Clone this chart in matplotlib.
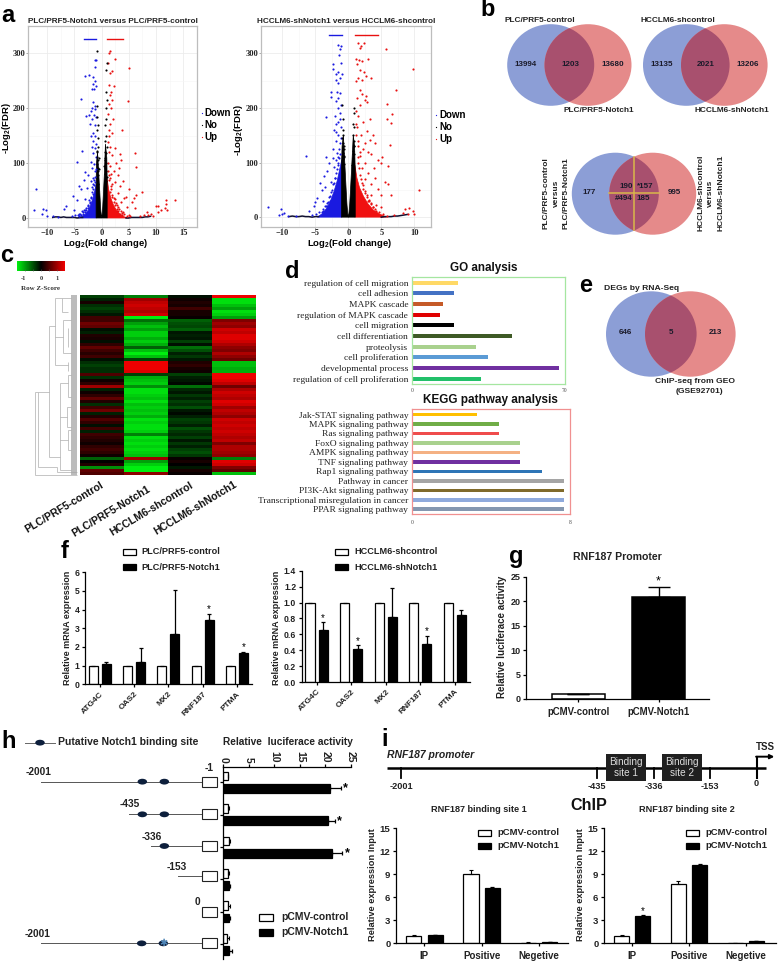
import matplotlib
matplotlib.use('Agg')
import matplotlib.pyplot as plt
import numpy as np
from matplotlib.patches import Ellipse, Rectangle
from matplotlib.colors import LinearSegmentedColormap

plt.rcParams['font.family'] = ['Liberation Sans', 'DejaVu Sans']
plt.rcParams['mathtext.fontset'] = 'custom'
plt.rcParams['mathtext.rm'] = 'Liberation Sans:bold'
plt.rcParams['mathtext.bf'] = 'Liberation Sans:bold'

# ---------- panel a: volcano values ----------
a1_blue_x = [-1.3,-1.0,-1.2,-3.0,-2.3,-1.5,-1.3,-1.6,-1.0,-1.8,-1.4,-3.8,-1.5,-1.3,-1.7,-1.2,-1.9,-2.9,-2.4,-1.4,-1.1,-1.7,-2.1,-1.3,-1.6,-1.2,-1.9,-1.5,-1.1,-1.8,-1.3,-3.7,-1.6,-1.1,-4.6,-2.0,-1.4,-1.8,-3.0,-1.2,-2.5,-1.5,-3.3,-2.0,-1.2,-4.2,-2.7,-3.8,-1.6,-12.0,-5.2,-4.5,-3.0,-2.2,-6.5,-7.0,-5.0,-10.8,-10.3,-10.9,-10.0,-12.5,-9.0,-8.0,-4.2,-3.6,-3.0,-2.5,
             -1.4,-1.7,-2.0,-2.3,-2.6,-2.9,-3.2,-3.5,-3.9,-4.4,-4.9,-5.5,-1.6,-1.9,-2.2,-2.5,-2.8,-3.1,-3.4,-3.8,-4.1,-1.2,-1.5,-1.8,-1.1,-1.4]
a1_blue_y = [288,288,275,258,260,257,250,245,240,235,235,217,212,205,200,198,195,186,188,188,185,180,172,170,155,150,150,140,135,130,128,122,118,112,102,102,98,92,84,85,78,72,70,68,66,58,55,52,52,53,40,32,35,30,22,16,14,17,14,8,4,15,3,2,8,12,15,18,
             60,48,38,32,24,19,14,10,8,6,5,3,44,36,27,21,14,11,7,5,3,75,62,56,90,70]
a1_red_x = [1.3,1.6,2.4,1.1,2.0,1.6,5.0,1.4,2.3,1.8,1.5,1.9,4.9,1.3,1.7,1.2,2.1,1.5,1.3,3.7,1.9,1.4,1.1,1.6,2.4,1.3,3.3,6.1,1.9,3.5,2.7,3.2,1.5,6.3,2.3,1.8,3.0,4.0,2.5,3.3,2.0,5.1,3.0,7.4,6.4,5.9,4.5,4.1,5.5,3.5,2.5,6.1,4.6,10.0,10.4,11.8,11.8,13.5,11.6,10.9,12.1,10.3,9.0,8.3,8.6,7.8,7.0,9.5,3.0,2.8,4.0,5.0,
            1.4,1.7,2.0,2.3,2.6,2.9,3.2,3.5,3.8,4.2,4.6,5.2,1.6,1.9,2.2,2.5,2.8,3.1,3.4,3.8,1.2,1.5,1.8,1.1,1.4]
a1_red_y = [300,305,290,282,268,265,273,243,240,230,225,215,214,207,200,190,180,172,160,161,155,150,138,130,128,120,117,118,115,105,100,92,95,93,85,80,78,68,65,58,62,53,45,48,42,37,38,36,30,30,34,18,20,22,22,33,26,32,18,14,15,10,8,11,6,5,3,3,20,12,10,5,
            70,52,42,36,28,24,17,13,9,7,4,3,48,38,30,24,16,13,8,5,85,72,58,100,78]
a1_black_x = [-0.85,0.9,0.85,0.75,0.95,-0.85,0.75,0.8,-0.8,-0.7,-0.9,0.7,0.85,-0.75,-0.6,0.65,-0.9,0.6,-0.5,0.6,0.5,-0.55,
              -0.9,-0.8,-0.7,-0.85,-0.65,-0.75,-0.6,-0.9,-0.8,-0.7,0.9,0.8,0.7,0.85,0.65,0.75,0.6,0.9,0.8,0.7]
a1_black_y = [305,282,270,230,215,205,200,180,185,170,160,170,150,145,130,140,122,120,110,110,95,90,
              120,112,105,98,92,85,78,72,66,62,130,118,105,100,92,86,80,74,68,62]
a1_tail_left_x = [-9.0,-8.5,-8.0,-7.5,-7.0,-6.5,-6.0,-5.5,-5.0,-4.5,-4.0,-3.5]
a1_tail_left_y = [1,2,2,1,2,1,1,1,1,0,1,1]
a1_tail_right_x = [4.5,5.0,5.5,6.0,6.5,7.0,7.5,8.0,8.5,9.0]
a1_tail_right_y = [0,0,1,1,1,1,1,2,2,3]
a1_blue_cloud_x = [-1,-1,-1.3,-1.6,-2,-2.5,-3,-3.6,-4.3]
a1_blue_cloud_y = [0,62,48,36,24,13,7,3,0]
a1_red_cloud_x = [1,1,1.3,1.7,2.2,2.8,3.5,4.2,5]
a1_red_cloud_y = [0,72,52,36,23,13,6,2,0]
a1_black_cloud_x = [-1.02,-1.02,-0.95,-0.75,-0.5,-0.33,-0.2,-0.08,0,0.08,0.2,0.33,0.5,0.7,0.95,1.02,1.02]
a1_black_cloud_y = [0,60,100,120,75,45,20,6,0,6,20,45,80,135,110,70,0]

a2_blue_x = [-1.6,-1.1,-1.2,-1.4,-1.1,-2.4,-2.3,-1.9,-1.5,-1.0,-1.3,-1.8,-1.6,-2.7,-1.7,-1.2,-2.6,-1.5,-1.9,-1.1,-1.6,-3.4,-2.0,-1.3,-1.8,-1.1,-2.2,-1.5,-1.9,-1.2,-2.3,-1.7,-6.4,-3.4,-2.4,-3.0,-1.5,-2.1,-3.2,-3.7,-4.3,-3.5,-2.6,-2.0,-4.0,-4.8,-5.0,-3.8,-5.2,-2.8,-6.0,-12.2,-10.2,-10.0,-10.5,-9.7,-9.2,-8.0,-4.0,-3.2,
             -1.4,-1.7,-2.0,-2.3,-2.6,-2.9,-3.2,-3.5,-3.9,-4.4,-4.9,-5.5,-1.6,-1.9,-2.2,-2.5,-2.8,-3.1,-3.4,-3.8,-1.2,-1.5,-1.8,-1.1,-1.4,-1.25,-1.55,-1.85]
a2_blue_y = [316,313,307,296,282,272,280,262,265,262,255,252,245,230,230,228,220,218,212,205,200,184,185,180,170,165,160,150,140,135,125,118,112,110,108,100,100,92,85,75,62,55,65,72,50,35,28,30,20,30,12,18,15,6,4,8,3,2,10,20,
             108,88,72,60,46,36,26,20,14,9,6,4,95,80,62,50,38,28,20,12,190,175,155,145,125,115,110,105]
a2_red_x = [1.5,2.4,1.9,1.7,5.7,1.1,1.6,3.0,1.3,2.0,1.8,9.8,2.4,2.7,1.4,2.0,1.1,3.5,7.3,1.7,2.1,2.7,1.3,2.5,2.8,5.9,1.8,1.1,6.6,1.5,5.8,3.3,2.2,6.5,1.3,2.8,1.9,3.7,3.3,2.6,4.1,6.3,1.5,2.2,3.0,3.5,1.8,5.1,4.5,2.6,5.0,3.9,6.0,2.0,3.0,4.0,2.5,3.5,5.6,4.5,10.8,6.0,4.9,6.5,3.5,5.0,4.2,8.6,9.2,9.8,10.0,9.0,8.3,7.0,3.0,4.0,
            1.4,1.7,2.0,2.3,2.6,2.9,3.2,3.5,3.8,4.2,4.6,5.2,5.8,1.6,1.9,2.2,2.5,2.8,3.1,3.4,3.8,1.2,1.5,1.8,1.1,1.4]
a2_red_y = [318,318,314,310,308,290,288,290,280,285,270,272,265,258,255,252,250,254,233,232,225,222,218,215,210,208,205,195,188,185,180,180,175,172,165,158,150,150,142,135,135,132,130,125,120,115,112,110,105,100,100,90,93,90,80,72,70,60,65,52,50,60,40,40,40,18,22,15,17,11,5,6,7,4,30,15,
            100,78,62,52,44,36,30,24,18,12,9,6,3,90,70,58,48,40,32,25,19,170,140,120,150,110]
a2_black_x = [-0.9,0.8,-0.85,0.85,0.75,-0.8,0.9,-0.75,0.7,-0.7,0.85,-0.65,0.7,-0.9,-0.8,-0.7,-0.85,-0.65,-0.75,-0.6,0.9,0.8,0.7,0.85,0.65,0.75,0.6]
a2_black_y = [205,200,180,190,170,160,165,150,150,130,130,110,115,145,135,125,118,112,106,98,140,130,122,116,108,102,96]
a2_tail_left_x = [-9.0,-8.5,-8.0,-7.5,-7.0,-6.5,-6.0,-5.5,-5.0,-4.5]
a2_tail_left_y = [1,2,1,1,2,1,1,0,1,1]
a2_tail_right_x = [5.0,5.5,6.0,6.5,7.0,7.5,8.0,8.5,9.0]
a2_tail_right_y = [0,1,1,1,2,2,3,4,5]
a2_blue_cloud_x = [-1,-1,-1.3,-1.7,-2.2,-2.7,-3.3,-4,-4.7]
a2_blue_cloud_y = [0,105,88,66,46,30,16,6,0]
a2_red_cloud_x = [1,1,1.3,1.7,2.3,3,3.8,4.7,5.8]
a2_red_cloud_y = [0,95,72,54,38,24,13,6,0]
a2_black_cloud_x = [-1.05,-1.05,-0.95,-0.75,-0.5,-0.33,-0.2,-0.08,0,0.08,0.2,0.33,0.5,0.75,0.95,1.05,1.05]
a2_black_cloud_y = [0,90,130,150,90,50,22,6,0,6,22,50,90,150,130,85,0]

# ---------- panel b / e: venn counts ----------
venn1_counts = ['13994', '1203', '13680']
venn2_counts = ['13135', '2021', '13206']
venn3_counts = ['177', '190', '*157', '#494', '185', '995']
venn_e_counts = ['646', '5', '213']

# ---------- panel c: heatmap rows (z-scores) ----------
heat_plc_control = [-0.4,-0.2,0.15,-0.3,-0.4,-0.3,-0.15,0.4,0.4,0.7,0.6,-0.1,-0.2,0.2,0.15,-0.1,0.3,0.6,0.4,0.25,0.4,-0.1,-0.3,-0.4,-0.3,-0.3,0.5,-0.3,0.1,0.3,1.0,-0.2,0.1,0.3,0.6,0.2,-0.3,0.4,0.7,-0.2,0.2,0.5,0.3,-0.1,0.4,-0.2,0.4,0.3,0.2,0.1,0.3,0.4,0.3,0.1,-0.6,0.0,0.2,-0.9,0.6,0.5]
heat_plc_notch = [-0.8,1.0,1.2,1.3,1.2,1.1,1.3,-1.5,-0.7,-1.0,-1.2,-1.0,-1.3,-1.3,-1.1,-1.3,-1.1,-0.6,-1.2,-1.5,-1.2,-0.4,1.5,1.5,1.5,1.4,-0.4,-1.1,-1.2,-1.3,-0.9,-1.4,-1.4,-1.3,-1.2,-1.4,-1.2,-1.3,-1.2,-1.3,-1.1,-1.4,-1.3,-1.4,-1.4,-1.3,-0.8,-1.4,-1.3,-1.4,-1.3,-1.4,-1.3,-1.2,1.0,-1.0,-1.3,-1.5,-1.5,0.9]
heat_hcc_control = [-0.1,0.1,0.2,0.15,0.4,0.15,0.15,0.05,-0.6,-0.5,-0.45,-0.6,-0.15,-0.2,-0.15,-0.4,-0.1,-0.7,-0.5,-0.2,-0.35,-0.15,0.2,0.3,0.15,0.1,-0.4,-0.2,-0.15,-0.05,-0.7,-0.25,-0.15,-0.35,-0.2,-0.4,-0.3,-0.5,-0.15,-0.05,-0.2,-0.4,-0.35,-0.2,-0.5,-0.35,-0.25,-0.4,-0.15,-0.35,-0.2,-0.4,-0.5,-0.35,0.05,0.15,0.0,-0.15,0.15,0.05]
heat_hcc_notch = [1.5,-1.4,-1.4,-1.2,-1.0,-1.4,-1.3,-1.0,0.8,1.0,0.9,1.3,1.2,1.4,1.4,1.3,1.1,0.9,0.8,1.1,0.9,0.7,-1.2,-1.2,-1.1,-1.1,1.5,1.5,1.4,1.2,0.7,1.1,1.3,1.2,1.1,1.4,1.3,1.0,1.2,1.1,0.9,1.3,1.2,1.3,1.2,1.3,1.2,1.1,1.2,0.8,1.1,1.1,1.0,0.9,-0.8,1.4,1.3,0.8,0.6,-1.2]
heat_columns = ['PLC/PRF5-control', 'PLC/PRF5-Notch1', 'HCCLM6-shcontrol', 'HCCLM6-shNotch1']

# ---------- panel d ----------
go_terms = ['regulation of cell migration','cell adhesion','MAPK cascade','regulation of MAPK cascade','cell migration','cell differentiation','proteolysis','cell proliferation','developmental process','regulation of cell proliferation']
go_values = [21.3,19.3,14.3,13.1,19.3,46,29.4,34.7,67.3,31.7]
go_colors = ['#ffd966','#4472c4','#c55a28','#e00000','#000000','#3e5a26','#a9d18e','#5b9bd5','#7030a0','#22c06a']
kegg_terms = ['Jak-STAT signaling pathway','MAPK signaling pathway','Ras signaling pathway','FoxO signaling pathway','AMPK signaling pathway','TNF signaling pathway','Rap1 signaling pathway','Pathway in cancer','PI3K-Akt signaling pathway','Transcriptional misregulation in cancer','PPAR signaling pathway']
kegg_values = [3.29,4.39,4.39,5.49,5.49,5.49,6.57,7.68,7.68,7.68,7.68]
kegg_colors = ['#ffc000','#70ad47','#ef4c4c','#a9d18e','#f4b183','#7030a0','#2e75b6','#a5a5a5','#806a2a','#8faadc','#8497b0']

# ---------- panel f ----------
genes = ['ATG4C','OAS2','MX2','RNF187','PTMA']
f1_control = [1,1,1,1,1]
f1_notch = [1.1,1.17,2.7,3.42,1.7]
f1_err = [0.1,0.78,2.33,0.35,0.05]
f1_star = [False,False,False,True,True]
f2_control = [1,1,1,1,1]
f2_notch = [0.65,0.42,0.82,0.48,0.84]
f2_err = [0.1,0.04,0.36,0.1,0.06]
f2_star = [True,True,False,True,False]

# ---------- panel g ----------
g_labels = ['pCMV-control','pCMV-Notch1']
g_values = [1.0,20.8]
g_err = [0.1,2.15]

# ---------- panel h ----------
h_control = [0.9,1.0,1.2,1.0,1.0,0.8]
h_control_err = [0.1,0.1,0.05,0.1,0.3,0.3]
h_notch = [20.8,20.5,21.2,1.2,1.2,1.2]
h_notch_err = [2.2,1.3,2.1,0.1,0.1,0.5]
h_star = [True,True,True,False,False,False]
h_ticks = [0,5,10,15,20,25]
h_site_labels = ['-2001','-1','-435','-336','-153','0','-2001']

# ---------- panel i ----------
i_groups = ['IP','Positive','Negetive']
i1_control = [1.0,9.1,0.1]
i1_control_err = [0.02,0.4,0.02]
i1_notch = [1.1,7.15,0.2]
i1_notch_err = [0.03,0.15,0.02]
i2_control = [1.0,7.8,0.05]
i2_control_err = [0.02,0.3,0.01]
i2_notch = [3.55,10.2,0.25]
i2_notch_err = [0.1,0.15,0.05]
i_promoter_labels = ['-2001','-435','-336','-153','0']

# ---------- figure scaffolding ----------
W, H = 778, 961
fig = plt.figure(figsize=(W/100, H/100), dpi=100, facecolor='white')
bg = fig.add_axes([0, 0, 1, 1])
bg.set_xlim(0, W); bg.set_ylim(H, 0); bg.axis('off')

def pax(x0, y0, x1, y1):
    a = fig.add_axes([x0/W, 1-y1/H, (x1-x0)/W, (y1-y0)/H])
    a.patch.set_alpha(0)
    return a

def T(x, y, s, size=6, weight='bold', ha='center', va='center', **kw):
    return bg.text(x, y, s, fontsize=size, fontweight=weight, ha=ha, va=va, **kw)

for s, x, y in [('a',8,15),('b',488,10),('c',7,255),('d',292,272),('e',586,286),('f',65,551),('g',516,557),('h',9,741),('i',385,739)]:
    T(x, y, s, size=17, ha='center')

# ---------- a ----------
def volcano(box, xlim, ylim, xt, yt, title, blue, red, black, clouds, tails, top_rugs):
    a = pax(*box)
    a.set_xlim(*xlim); a.set_ylim(*ylim)
    a.set_xticks(xt); a.set_yticks(yt)
    a.set_xticks([v+2.5 for v in xt], minor=True)
    a.set_yticks([v+50 for v in yt], minor=True)
    a.grid(True, which='major', color='#ececec', lw=0.6)
    a.grid(True, which='minor', color='#f5f5f5', lw=0.4)
    a.set_axisbelow(True)
    for sp in a.spines.values():
        sp.set_color('#bdbdbd'); sp.set_linewidth(0.9)
    a.tick_params(which='minor', length=0)
    a.tick_params(which='major', length=1.5, width=0.5, color='#888888', pad=0.5)
    for lab in a.get_xticklabels()+a.get_yticklabels():
        lab.set_family('Liberation Serif'); lab.set_fontweight('bold'); lab.set_fontsize(6.0); lab.set_color('#222222')
    for (cx, cy), c in zip(clouds, ['#1a1ae0', '#f01010', '#000000']):
        a.fill(cx, cy, color=c, lw=0.5, zorder=2 if c != '#000000' else 2.5)
    for tx, ty in tails:
        a.plot(tx, ty, color='#101030', lw=1.1, zorder=2)
    a.scatter(*blue, s=2.4, color='#1a1ae0', lw=0, zorder=3)
    a.scatter(*red, s=2.4, color='#e81010', lw=0, zorder=3)
    a.scatter(*black, s=2.4, color='#000000', lw=0, zorder=3)
    for (x0, x1), c in top_rugs:
        a.plot([x0, x1], [ylim[1], ylim[1]], color=c, lw=1.0, clip_on=False, zorder=4)
    a.set_title(title, fontsize=5.85, fontweight='bold', pad=2.2, color='#222222')
    return a

volcano((28.3,26,196.7,226.7), (-13.5,15.8), (-15.9,325.6), [-10,-5,0,5,10,15], [0,100,200,300],
        'PLC/PRF5-Notch1 versus PLC/PRF5-control',
        (a1_blue_x,a1_blue_y),(a1_red_x,a1_red_y),(a1_black_x,a1_black_y),
        [(a1_blue_cloud_x,a1_blue_cloud_y),(a1_red_cloud_x,a1_red_cloud_y),(a1_black_cloud_x,a1_black_cloud_y)],
        [(a1_tail_left_x,a1_tail_left_y),(a1_tail_right_x,a1_tail_right_y)],
        [((-3.2,-1),'#1a1ae0'),((1,3.9),'#e81010')])
volcano((260.7,26,430.7,226.7), (-13.3,11.9), (-17.5,334), [-10,-5,0,5,10], [0,100,200,300],
        'HCCLM6-shNotch1 versus HCCLM6-shcontrol',
        (a2_blue_x,a2_blue_y),(a2_red_x,a2_red_y),(a2_black_x,a2_black_y),
        [(a2_blue_cloud_x,a2_blue_cloud_y),(a2_red_cloud_x,a2_red_cloud_y),(a2_black_cloud_x,a2_black_cloud_y)],
        [(a2_tail_left_x,a2_tail_left_y),(a2_tail_right_x,a2_tail_right_y)],
        [((-2.9,-1),'#1a1ae0'),((1,4.5),'#e81010')])
for x, x2, ys in [(202,204,(113,125,137)),(436.5,439,(115,127,139))]:
    for lab, y, c in zip(['Down','No','Up'], ys, ['#1a1ae0','#000000','#e81010']):
        bg.plot([x],[y], 'o', ms=0.9, color=c, mew=0)
        T(x2, y, lab, size=7, ha='left')
T(106, 244, r'Log$_{\mathbf{2}}$(Fold change)', size=6.8)
T(350, 244, r'Log$_{\mathbf{2}}$(Fold change)', size=6.8)
T(7, 128, r'-Log$_{\mathbf{2}}$(FDR)', size=6.8, rotation=90)
T(238.5, 130, r'-Log$_{\mathbf{2}}$(FDR)', size=6.8, rotation=90)

# ---------- venn ----------
def venn(xb, xr, y, rx, ry):
    blue = Ellipse((xb,y), 2*rx, 2*ry, fc='#8c9ed6', ec='none', zorder=1)
    red = Ellipse((xr,y), 2*rx, 2*ry, fc='#e58a8a', ec='none', zorder=1.1)
    bg.add_patch(blue); bg.add_patch(red)
    ov = Ellipse((xr,y), 2*rx, 2*ry, fc='#a8506e', ec='none', zorder=1.2)
    bg.add_patch(ov); ov.set_clip_path(blue)

venn(550.7,588,65,43.5,40.8)
venn(686.3,724.3,65,43.3,40.8)
venn(615.3,652.7,193.7,43.5,41)
venn(651.3,690.3,334,45.3,42.7)
for (x,y), s in zip([(526,64),(570,64),(612.7,64)], venn1_counts):
    T(x,y,s,size=5.8,color='#1a1a2a')
for (x,y), s in zip([(661.7,64),(706,64),(748,65)], venn2_counts):
    T(x,y,s,size=5.8,color='#1a1a2a')
bg.plot([634,634],[156.7,230],color='#d9b84a',lw=1.1,zorder=2)
bg.plot([609.3,659],[193.3,193.3],color='#d9b84a',lw=1.1,zorder=2)
for (x,y), s in zip([(589,193),(626,186),(645.7,186),(623.7,198.7),(643.7,198.7),(674,193)], venn3_counts):
    T(x,y,s,size=5.8,color='#1a1a2a',zorder=3)
for (x,y), s in zip([(625.7,333),(671,333),(715.7,333)], venn_e_counts):
    T(x,y,s,size=5.8,color='#1a1a2a',zorder=3)
for x,y,s in [(540,21,'PLC/PRF5-control'),(599,111,'PLC/PRF5-Notch1'),(677.7,21,'HCCLM6-shcontrol'),(732,111,'HCCLM6-shNotch1')]:
    T(x,y,s,size=5.95,color='#222222',zorder=3)
for x,s in [(546,'PLC/PRF5-control'),(556,'versus'),(566,'PLC/PRF5-Notch1'),(701,'HCCLM6-shcontrol'),(710.7,'versus'),(720.7,'HCCLM6-shNotch1')]:
    T(x,193,s,size=6,rotation=90,color='#222222')
T(641.7,288,'DEGs by RNA-Seq',size=6.1,color='#222222',zorder=3)
T(695,381.3,'ChIP-seq from GEO',size=6.1,color='#222222',zorder=3)
T(699.7,391.7,'(GSE92701)',size=6.1,color='#222222',zorder=3)

# ---------- c ----------
cmap = LinearSegmentedColormap.from_list('gbr', ['#00ee10','#000000','#ee0000'])
hm = pax(80,295,255,475)
hm.imshow(np.array([heat_plc_control,heat_plc_notch,heat_hcc_control,heat_hcc_notch]).T,
          cmap=cmap, vmin=-1.5, vmax=1.5, aspect='auto', interpolation='nearest')
hm.set_yticks([]); hm.set_xticks([])
for sp in hm.spines.values():
    sp.set_visible(False)
for (x, y), s in zip([(103,484),(149,488),(192,484),(236,484)], heat_columns):
    T(x, y, s, size=7.6, rotation=31, ha='right', va='center', rotation_mode='anchor', color='#111111')
cb = pax(17,261,65,270.7)
cb.imshow(np.linspace(-1.5,1.5,60)[None,:], cmap=cmap, aspect='auto', extent=(-1.5,1.5,0,1))
cb.set_yticks([]); cb.set_xticks([-1,-0.5,0,0.5,1]); cb.set_xticklabels([])
cb.tick_params(length=1.2, width=0.4, direction='in', color='#555555')
for sp in cb.spines.values():
    sp.set_visible(False)
for x,s in zip([23,41,57],['-1','0','1']):
    T(x,279,s,size=4.6,family='Liberation Serif',color='#333333')
T(41,288,'Row Z-Score',size=5,family='Liberation Serif',color='#333333')
dendro = [((105,455),(105,705)),((105,455),(115,455)),((115,455),(115,680)),((115,455),(148,455)),((148,258),(148,650)),((148,258),(165,258)),
          ((165,175),(165,375)),((165,175),(185,175)),((185,175),(185,215)),((185,215),(205,215)),((185,175),(212,175)),((165,375),(205,375)),
          ((205,365),(205,392)),((190,240),(190,340)),((165,290),(190,290)),((190,240),(212,240)),((190,340),(212,340)),((205,265),(205,320)),
          ((148,650),(180,650)),((180,430),(180,690)),((180,430),(205,430)),((205,405),(205,470)),((180,600),(205,600)),((205,570),(205,630)),
          ((115,680),(170,680)),((105,705),(232,705)),((170,695),(232,695)),((170,680),(170,695)),((205,405),(212,405)),((205,470),(212,470)),
          ((205,570),(212,570)),((205,630),(212,630)),((180,690),(212,690)),((200,500),(200,560)),((180,530),(200,530)),((200,500),(212,500)),((200,560),(212,560))]
for (x0,y0),(x1,y1) in dendro:
    bg.plot([x0/3,x1/3],[240+y0/3,240+y1/3],color='#a5a5a5',lw=0.45,solid_capstyle='butt')
bg.add_patch(Rectangle((71,295),6.5,180,fc='#bcbcbc',ec='none'))

# ---------- d ----------
def hbars(box, xlim, terms, vals, cols, ec, h, tick0, tick1, title, title_xy, tsize):
    a = pax(*box)
    n = len(terms)
    a.barh(range(n), vals, height=h, color=cols, zorder=2)
    a.set_xlim(*xlim); a.set_ylim(n-0.5+0.03, -0.55)
    a.set_yticks(range(n)); a.set_yticklabels(terms, fontsize=6.8, family='Liberation Serif', color='#222222')
    a.set_xticks([])
    a.tick_params(axis='y', length=0, pad=2.5)
    for sp in a.spines.values():
        sp.set_color(ec); sp.set_linewidth(0.9)
    T(*title_xy, title, size=tsize, color='#111111')
    T(*tick0, '0', size=4, family='Liberation Serif', weight='normal', color='#444444')
    T(*tick1, str(xlim[1]), size=4, family='Liberation Serif', weight='normal', color='#444444')

hbars((411.7,276.7,565,384.3),(0,70),go_terms,go_values,go_colors,'#a5e6a0',0.38,(411.7,390),(564,390),'GO analysis',(483.7,268),8.4)
hbars((411.7,409.3,570,514.3),(0,8),kegg_terms,kegg_values,kegg_colors,'#f09090',0.38,(412,522),(570,523),'KEGG pathway analysis',(490,400),8.5)

# ---------- bar helpers ----------
def prism(a, size=6.2):
    for s in ['top','right']:
        a.spines[s].set_visible(False)
    for s in ['left','bottom']:
        a.spines[s].set_linewidth(0.9)
    a.tick_params(width=0.9, length=2.5, pad=1.5, labelsize=size)
    for lab in a.get_xticklabels()+a.get_yticklabels():
        lab.set_fontweight('bold'); lab.set_color('#222222')

def legend_box(x0, x1, xt, rows, size=6.0, h=6):
    for (y, c, s) in rows:
        bg.add_patch(Rectangle((x0,y-h/2),x1-x0,h,fc=c,ec='black',lw=0.9))
        T(xt,y,s,size=size,ha='left',color='#222222')

def grouped(box, xlim, ylim, yticks, ctrl, ctrl_err, notch, notch_err, labels, width, off, rot=None):
    a = pax(*box)
    x = np.arange(len(ctrl))
    a.bar(x-off, ctrl, width, color='white', edgecolor='black', lw=0.9,
          yerr=[np.zeros(len(ctrl)), ctrl_err], error_kw=dict(ecolor='black', elinewidth=0.8, capsize=1.6, capthick=0.8))
    a.bar(x+off, notch, width, color='black', edgecolor='black', lw=0.9,
          yerr=[np.zeros(len(notch)), notch_err], error_kw=dict(ecolor='black', elinewidth=0.9, capsize=1.6, capthick=0.9))
    a.set_xlim(*xlim); a.set_ylim(*ylim); a.set_yticks(yticks); a.set_xticks(x)
    if rot:
        a.set_xticklabels(labels, rotation=rot, ha='right', rotation_mode='anchor')
    else:
        a.set_xticklabels(labels)
    prism(a)
    return a, x

# ---------- f ----------
f1, x = grouped((85,572.3,252,684.3),(-0.43,4.44),(0,6),range(7),f1_control,[0]*5,f1_notch,f1_err,genes,0.262,0.19,rot=45)
for i,s in enumerate(f1_star):
    if s:
        f1.text(x[i]+0.19, f1_notch[i]+f1_err[i]-0.02, '*', ha='center', va='bottom', fontsize=7)
f2, x = grouped((301.7,570.7,470,682),(-0.43,4.44),(0,1.4),[0,0.2,0.4,0.6,0.8,1.0,1.2,1.4],f2_control,[0]*5,f2_notch,f2_err,genes,0.262,0.19,rot=45)
f2.set_yticklabels(['0.0','0.2','0.4','0.6','0.8','1.0','1.2','1.4'])
for i,s in enumerate(f2_star):
    if s:
        f2.text(x[i]+0.19, f2_notch[i]+f2_err[i]-0.005, '*', ha='center', va='bottom', fontsize=7)
for a in (f1,f2):
    a.tick_params(axis='x', labelsize=6, pad=2)
T(68,628,'Relative mRNA expression',size=6.5,rotation=90,color='#222222')
T(277,628,'Relative mRNA expression',size=6.5,rotation=90,color='#222222')
legend_box(122.7,135.7,141.7,[(552,'white','PLC/PRF5-control'),(567,'black','PLC/PRF5-Notch1')],size=6.6)
legend_box(335,348.3,354.3,[(552,'white','HCCLM6-shcontrol'),(567,'black','HCCLM6-shNotch1')],size=6.6)

# ---------- g ----------
g = pax(526,576.7,709,699)
g_x = [0, 1]
g.bar(g_x, g_values, width=0.67, color=['white','black'], edgecolor='black', lw=1.1,
      yerr=[[0,0], g_err], error_kw=dict(ecolor='black', elinewidth=1, capsize=8, capthick=1))
g.set_xlim(-0.655,1.63); g.set_ylim(0,25); g.set_yticks([0,5,10,15,20,25]); g.set_xticks(g_x); g.set_xticklabels(g_labels)
prism(g, 6.5)
g.tick_params(axis='x', labelsize=6.9, pad=3)
g.text(1, g_values[1]+g_err[1]-0.2, '*', ha='center', va='bottom', fontsize=9)
T(617.3,557.3,'RNF187 Promoter',size=7.6,color='#222222')
T(501.7,637,'Relative luciferace activity',size=7,rotation=90,color='#222222')

# ---------- h ----------
h = pax(223.3,767.3,351,959.3)
ypos = np.arange(6)
h.barh(ypos-0.19, h_control, 0.267, color='white', edgecolor='black', lw=0.9,
       xerr=[np.zeros(6), h_control_err], error_kw=dict(ecolor='black', elinewidth=0.8, capsize=1.3, capthick=0.8))
h.barh(ypos+0.19, h_notch, 0.267, color='black', edgecolor='black', lw=0.9,
       xerr=[np.zeros(6), h_notch_err], error_kw=dict(ecolor='black', elinewidth=0.9, capsize=1.5, capthick=0.9))
h.set_xlim(0,25); h.set_ylim(5.46,-0.457)
h.xaxis.tick_top(); h.set_xticks(h_ticks); h.set_yticks(ypos); h.set_yticklabels([])
for s in ['right','bottom']:
    h.spines[s].set_visible(False)
for s in ['left','top']:
    h.spines[s].set_linewidth(0.9)
h.tick_params(width=0.9, length=2.5, pad=1)
for lab in h.get_xticklabels():
    lab.set_rotation(270); lab.set_fontweight('bold'); lab.set_fontsize(7.5); lab.set_color('#222222')
for i,s in enumerate(h_star):
    if s:
        h.text(h_notch[i]+h_notch_err[i]+0.9, ypos[i]+0.2, '*', ha='center', va='center', fontsize=9, fontweight='bold')
T(287.7,742,'Relative  luciferace activity',size=7.3,color='#222222')
T(57.7,742,'Putative Notch1 binding site',size=7.5,ha='left',color='#222222')
NAVY = '#0d1f3c'
def site(zx, zy):
    bg.add_patch(Ellipse((zx/3, 690+zy/3), 9.5, 5.8, fc=NAVY, ec='none', zorder=3))
bg.plot([25,55],[743,743],color='#666666',lw=0.7)
site(120,158)
rows_zy = [275,373,468,558,665,760]
starts = [123,388,453,535,605,123]
for zy, zs in zip(rows_zy, starts):
    bg.plot([zs/3,606/3],[690+zy/3,690+zy/3],color='#555555',lw=0.7,zorder=2)
    bg.add_patch(Rectangle((606/3,690+(zy-15)/3),44/3,10,fc='white',ec='#222222',lw=0.8,zorder=3))
for zx,zy in [(427,275),(493,275),(427,373),(493,373),(493,468),(425,760),(490,760)]:
    site(zx,zy)
T(490/3,690+760/3,'✱',size=7,color='#4f86b8',weight='normal',family='DejaVu Sans',zorder=4)
for (zx,zy),s in zip([(116,245),(628,235),(388,343),(455,440),(530,530),(592,636),(113,732)],h_site_labels):
    T(zx/3,690+zy/3,s,size=7.3,color='#222222')
legend_box(259,273.3,281,[(917,'white','pCMV-control'),(932,'black','pCMV-Notch1')],size=7.5,h=7)

# ---------- i ----------
def zi(zx, zy):
    return 370+zx/3, 690+zy/3
x0,y0 = zi(52,235); x1,_ = zi(1188,235)
bg.plot([x0,x1],[y0,y0],color='black',lw=1.8,zorder=2,solid_capstyle='butt')
for zx,zb in [(93,265),(682,265),(851,265),(1019,265)]:
    a_,b_ = zi(zx,235); _,c_ = zi(zx,zb)
    bg.plot([a_,a_],[b_,c_],color='black',lw=1.3,zorder=2)
a_,b_ = zi(1160,265); _,c_ = zi(1160,200)
bg.plot([a_,a_],[b_,c_],color='black',lw=1.5,zorder=2)
tx,_ = zi(1213,200)
bg.annotate('',xy=(tx,c_),xytext=(a_-0.6,c_),arrowprops=dict(arrowstyle='-|>',lw=1.4,color='black',mutation_scale=6,shrinkA=0,shrinkB=0),zorder=2)
for (zx,zy),s in zip([(93,289),(682,289),(851,289),(1019,289),(1160,280)],i_promoter_labels):
    T(*zi(zx,zy),s,size=6.6,color='#222222')
T(*zi(1186,170),'TSS',size=7,color='#222222')
T(*zi(52,194),'RNF187 promoter',size=7.5,style='italic',ha='left',color='#222222')
for zx0,zx1,s in [(707,827,'Binding\nsite 1'),(876,995,'Binding\nsite 2')]:
    a_,b_ = zi(zx0,193); c_,d_ = zi(zx1,273)
    bg.add_patch(Rectangle((a_,b_),c_-a_,d_-b_,fc='#202020',ec='none',zorder=3))
    T((a_+c_)/2,(b_+d_)/2,s,size=7.2,weight='normal',color='#dddddd',zorder=4,linespacing=1.15)
T(*zi(657,345),'ChIP',size=11.6,color='#111111')
T(*zi(327,360),'RNF187 binding site 1',size=6.6,color='#222222')
T(*zi(951,360),'RNF187 binding site 2',size=6.6,color='#222222')

i1, ix = grouped((396,828.3,567.7,943.3),(-0.495,2.5),(0,15),[0,3,6,9,12,15],i1_control,i1_control_err,i1_notch,i1_notch_err,i_groups,0.263,0.187)
i2, ix = grouped((604,828.3,776,943.3),(-0.495,2.53),(0,15),[0,3,6,9,12,15],i2_control,i2_control_err,i2_notch,i2_notch_err,i_groups,0.263,0.187)
for a in (i1,i2):
    a.tick_params(axis='x', labelsize=7, pad=3)
    a.tick_params(axis='y', labelsize=6.8)
i2.text(0.187, 3.6, '*', ha='center', va='bottom', fontsize=7)
T(373,885,'Relative expression Input',size=6.7,rotation=90,color='#222222')
T(580.7,885,'Relative expression Input',size=6.7,rotation=90,color='#222222')
legend_box(477.7,491,497.7,[(832.5,'white','pCMV-control'),(845.5,'black','pCMV-Notch1')],size=6.8)
legend_box(685.7,699.3,705.7,[(832.5,'white','pCMV-control'),(845.5,'black','pCMV-Notch1')],size=6.8)

fig.savefig('out.png', dpi=100, facecolor='white')
